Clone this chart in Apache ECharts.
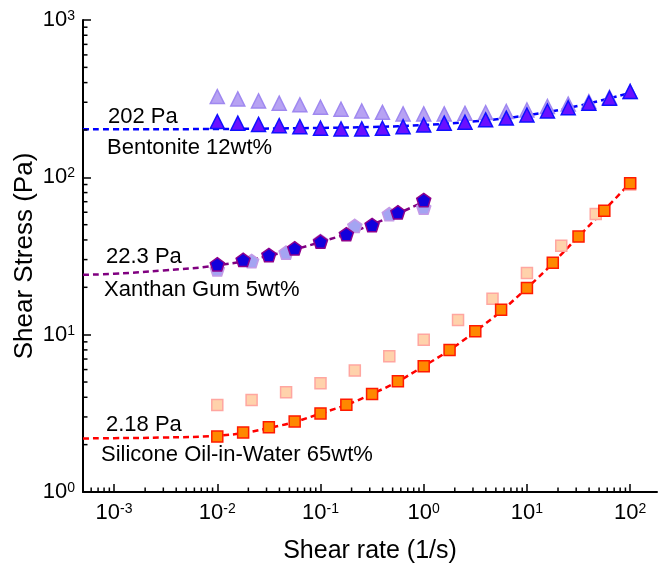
<!DOCTYPE html>
<html>
<head>
<meta charset="utf-8">
<script src="https://cdn.jsdelivr.net/npm/echarts@6/dist/echarts.min.js"></script>
<style>
  html, body { margin: 0; padding: 0; background: #fff; }
  #main { width: 658px; height: 569px; }
</style>
</head>
<body>
<div id="main"></div>
<script>
// axis range (1/s and Pa)
const xMin = 0.0005, xMax = 182;
const yMin = 1, yMax = 1000;

// Bentonite 12wt%
const bentRate = [0.01, 0.0158, 0.0251, 0.0398, 0.0631, 0.1, 0.158, 0.251, 0.398, 0.631,
    1, 1.58, 2.51, 3.98, 6.31, 10, 15.8, 25.1, 39.8, 63.1, 100];
const bentDark = [226, 221, 217, 213, 210, 205, 203, 203, 205, 210,
    215, 221, 224, 232, 238, 249, 264, 277, 296, 318, 351];
const bentLight = [326, 315, 306, 296, 289, 279, 271, 264, 259, 253,
    253, 253, 255, 258, 262, 268, 282, 292, 303, 323, 351];
const bentFitRate = [0.0005, 0.001, 0.01, 0.1, 0.316, 1, 3.16, 10, 31.6, 100];
const bentFit = [202, 202, 203, 206, 209, 215, 227, 248, 285, 345];

// Xanthan Gum 5wt%
const xanDarkRate = [0.01, 0.0178, 0.0316, 0.0562, 0.1, 0.178, 0.316, 0.562, 1];
const xanDark = [28.0, 29.9, 32.1, 35.4, 39.0, 43.5, 49.8, 60.0, 71.8];
const xanLightRate = [0.01, 0.0215, 0.0464, 0.1, 0.215, 0.464, 1];
const xanLight = [26.0, 29.4, 33.2, 39.4, 49.1, 58.3, 64.2];
const xanFitRate = [0.0005, 0.001, 0.003, 0.01, 0.03, 0.1, 0.3, 1];
const xanFit = [24.0, 24.4, 25.6, 27.6, 31.5, 38.8, 49.5, 70];

// Silicone Oil-in-Water 65wt%
const silDarkRate = [0.01, 0.0178, 0.0316, 0.0562, 0.1, 0.178, 0.316, 0.562, 1,
    1.78, 3.16, 5.62, 10, 17.8, 31.6, 56.2, 100];
const silDark = [2.25, 2.39, 2.58, 2.81, 3.16, 3.59, 4.20, 5.05, 6.30,
    8.0, 10.5, 14.4, 19.8, 28.6, 42, 61.4, 91.7];
const silLightRate = [0.01, 0.0215, 0.0464, 0.1, 0.215, 0.464, 1, 2.15, 4.64, 10, 21.5, 46.4, 100];
const silLight = [3.57, 3.85, 4.31, 4.91, 5.91, 7.29, 9.3, 12.4, 16.9, 24.7, 36.8, 58.5, 90];
const silFitRate = [0.0005, 0.001, 0.003, 0.01, 0.0316, 0.1, 0.316, 1, 3.16, 10, 31.6, 100];
const silFit = [2.19, 2.2, 2.22, 2.28, 2.55, 3.15, 4.2, 6.3, 10.5, 19.8, 42, 92];

// minor tick values (2..9 x 10^k)
const xMinor = [6e-4, 7e-4, 8e-4, 9e-4,
    0.002, 0.003, 0.004, 0.005, 0.006, 0.007, 0.008, 0.009,
    0.02, 0.03, 0.04, 0.05, 0.06, 0.07, 0.08, 0.09,
    0.2, 0.3, 0.4, 0.5, 0.6, 0.7, 0.8, 0.9,
    2, 3, 4, 5, 6, 7, 8, 9,
    20, 30, 40, 50, 60, 70, 80, 90];
const yMinor = [2, 3, 4, 5, 6, 7, 8, 9,
    20, 30, 40, 50, 60, 70, 80, 90,
    200, 300, 400, 500, 600, 700, 800, 900];

const font = '"Liberation Sans", Arial, sans-serif';

function zip(a, b) {
    return a.map((v, i) => [v, b[i]]);
}

// 10^n labels, nothing at the non-decade ends
function powLabel(v) {
    let e = Math.log10(v);
    let r = Math.round(e);
    if (Math.abs(e - r) > 1e-6) return '';
    return '10{sup|' + r + '}';
}

const pentagon = 'path://M0,-10L9.51,-3.09L5.88,8.09L-5.88,8.09L-9.51,-3.09Z';

function scatter(data, symbol, size, fill, border, z) {
    return {
        type: 'scatter',
        data: data,
        symbol: symbol,
        symbolSize: size,
        symbolKeepAspect: true,
        z: z,
        itemStyle: { color: fill, borderColor: border, borderWidth: 1.5, opacity: 1 }
    };
}

function fitLine(data, color) {
    return {
        type: 'line',
        data: data,
        smooth: true,
        showSymbol: false,
        z: 3,
        lineStyle: { color: color, width: 2.5, type: [6, 4] }
    };
}

// minor ticks drawn inside the axes
function minorTicks(values, horizontal) {
    return {
        type: 'custom',
        silent: true,
        z: 5,
        data: values,
        renderItem: function (params, api) {
            let v = api.value(0);
            let p = horizontal ? api.coord([v, yMin]) : api.coord([xMin, v]);
            let shape = horizontal
                ? { x1: p[0], y1: p[1], x2: p[0], y2: p[1] - 4.5 }
                : { x1: p[0], y1: p[1], x2: p[0] + 4.5, y2: p[1] };
            return { type: 'line', shape: shape, style: { stroke: '#000', lineWidth: 1.5 } };
        },
        encode: horizontal ? { x: 0 } : { y: 0 }
    };
}

let myChart = echarts.init(document.getElementById('main'));

let axisText = { fontFamily: font, fontSize: 22, color: '#000' };

let option = {
    backgroundColor: '#fff',
    animation: false,
    grid: { left: 83, right: 1, top: 20, bottom: 77, containLabel: false, outerBoundsMode: 'none' },
    xAxis: {
        type: 'log',
        logBase: 10,
        min: xMin,
        max: xMax,
        name: 'Shear rate (1/s)',
        nameLocation: 'middle',
        nameGap: 47,
        nameMoveOverlap: false,
        nameTextStyle: { fontFamily: font, fontSize: 25, color: '#000' },
        axisLine: { lineStyle: { color: '#000', width: 2 } },
        axisTick: { inside: true, length: 8, lineStyle: { color: '#000', width: 1.5 } },
        splitLine: { show: false },
        axisLabel: Object.assign({
            margin: 10,
            formatter: powLabel,
            showMinLabel: false,
            showMaxLabel: false,
            rich: { sup: { fontFamily: font, fontSize: 14, verticalAlign: 'top', color: '#000' } }
        }, axisText)
    },
    yAxis: {
        type: 'log',
        logBase: 10,
        min: yMin,
        max: yMax,
        name: 'Shear Stress (Pa)',
        nameLocation: 'middle',
        nameGap: 45,
        nameMoveOverlap: false,
        nameTextStyle: { fontFamily: font, fontSize: 26, color: '#000' },
        axisLine: { show: true, lineStyle: { color: '#000', width: 2 } },
        axisTick: { show: true, inside: true, length: 8, lineStyle: { color: '#000', width: 1.5 } },
        splitLine: { show: false },
        axisLabel: Object.assign({
            margin: 8,
            formatter: powLabel,
            rich: { sup: { fontFamily: font, fontSize: 14, verticalAlign: 'top', color: '#000' } }
        }, axisText)
    },
    series: [
        minorTicks(xMinor, true),
        minorTicks(yMinor, false),
        scatter(zip(bentRate, bentLight), 'triangle', 14, '#b7a2f3', '#9f88f0', 4),
        fitLine(zip(bentFitRate, bentFit), '#0000ff'),
        scatter(zip(bentRate, bentDark), 'triangle', 14, '#6a10ff', '#1010ff', 6),
        scatter(zip(xanLightRate, xanLight), pentagon, 14, '#a4a4f2', '#c49ae6', 4),
        fitLine(zip(xanFitRate, xanFit), '#800080'),
        scatter(zip(xanDarkRate, xanDark), pentagon, 14, '#1200dc', '#8c008c', 6),
        scatter(zip(silLightRate, silLight), 'rect', 11, '#ffd2ab', '#ffa6a0', 4),
        fitLine(zip(silFitRate, silFit), '#ff0000'),
        scatter(zip(silDarkRate, silDark), 'rect', 11, '#ff8800', '#ff1a00', 6)
    ],
    graphic: [
        { type: 'text', left: 108, top: 106, style: { text: '202 Pa', font: '22px ' + font, fill: '#000' } },
        { type: 'text', left: 107, top: 137, style: { text: 'Bentonite 12wt%', font: '22px ' + font, fill: '#000' } },
        { type: 'text', left: 106, top: 246, style: { text: '22.3 Pa', font: '22px ' + font, fill: '#000' } },
        { type: 'text', left: 104, top: 279, style: { text: 'Xanthan Gum 5wt%', font: '22px ' + font, fill: '#000' } },
        { type: 'text', left: 106, top: 414, style: { text: '2.18 Pa', font: '22px ' + font, fill: '#000' } },
        { type: 'text', left: 101, top: 444, style: { text: 'Silicone Oil-in-Water 65wt%', font: '22px ' + font, fill: '#000' } }
    ]
};

myChart.setOption(option);
</script>
</body>
</html>
